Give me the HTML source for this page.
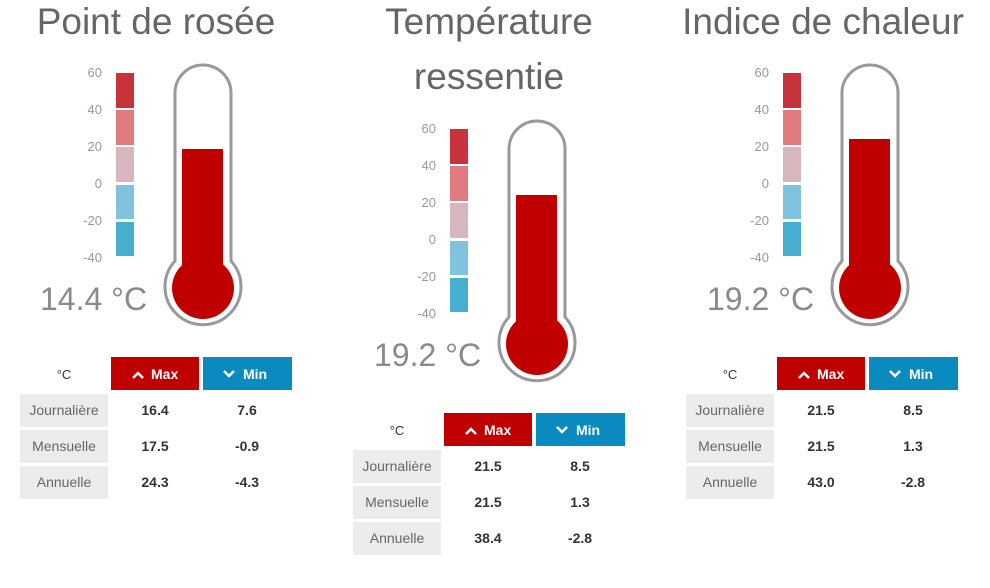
<!DOCTYPE html>
<html><head><meta charset="utf-8"><style>
html,body{margin:0;padding:0;background:#fff;}
svg{display:block;font-family:"Liberation Sans",sans-serif;}
</style></head><body>
<svg width="990" height="588" viewBox="0 0 990 588" xmlns="http://www.w3.org/2000/svg">
<defs>
<g id="scale">
  <rect x="116" y="73" width="18" height="35" fill="#c8323a"/>
  <rect x="116" y="110" width="18" height="35" fill="#e07a7e"/>
  <rect x="116" y="147" width="18" height="35" fill="#d8b6bd"/>
  <rect x="116" y="185" width="18" height="34" fill="#7fc3de"/>
  <rect x="116" y="222" width="18" height="34" fill="#46aecf"/>
  <g font-size="13" fill="#999" text-anchor="end">
    <text x="102" y="77">60</text>
    <text x="102" y="114">40</text>
    <text x="102" y="151">20</text>
    <text x="102" y="188">0</text>
    <text x="102" y="225">-20</text>
    <text x="102" y="262">-40</text>
  </g>
  <path d="M175,261 L175,93 A28,28 0 0 1 231,93 L231,261 A38,38 0 1 1 175,261 Z" fill="#fff" stroke="#999" stroke-width="3"/>
  <circle cx="203" cy="288" r="31" fill="#c00000"/>
</g>
<g id="hdr">
  <text x="64" y="379" font-size="13" fill="#333" text-anchor="middle">°C</text>
  <rect x="111" y="357" width="88" height="33" fill="#c00000"/>
  <rect x="203" y="357" width="89" height="33" fill="#0a8bbf"/>
  <polyline points="133,378 138,373 143,378" fill="none" stroke="#fff" stroke-width="2.5"/>
  <text x="151" y="379" font-size="14" font-weight="bold" fill="#fff">Max</text>
  <polyline points="224,371 229,376 234,371" fill="none" stroke="#fff" stroke-width="2.5"/>
  <text x="243" y="379" font-size="14" font-weight="bold" fill="#fff">Min</text>
  <rect x="20" y="394" width="88" height="33" fill="#ececec"/>
  <rect x="20" y="430" width="88" height="33" fill="#ececec"/>
  <rect x="20" y="466" width="88" height="33" fill="#ececec"/>
  <g font-size="14" fill="#666" text-anchor="middle">
    <text x="64" y="415">Journalière</text>
    <text x="64" y="451">Mensuelle</text>
    <text x="64" y="487">Annuelle</text>
  </g>
</g>
</defs>

<!-- Panel 1 -->
<text x="156" y="34" font-size="37" fill="#666" text-anchor="middle">Point de rosée</text>
<use href="#scale"/>
<rect x="182" y="149" width="41" height="140" fill="#c00000"/>
<text x="40" y="310" font-size="32" fill="#8a8a8a">14.4 °C</text>
<use href="#hdr"/>
<g font-size="14" font-weight="bold" fill="#333" text-anchor="middle">
<text x="155" y="415">16.4</text><text x="247" y="415">7.6</text>
<text x="155" y="451">17.5</text><text x="247" y="451">-0.9</text>
<text x="155" y="487">24.3</text><text x="247" y="487">-4.3</text>
</g>

<!-- Panel 2 -->
<text x="489" y="34" font-size="37" fill="#666" text-anchor="middle">Température</text>
<text x="489" y="89" font-size="37" fill="#666" text-anchor="middle">ressentie</text>
<g transform="translate(334,56)">
<use href="#scale"/>
<rect x="182" y="139" width="41" height="150" fill="#c00000"/>
<text x="40" y="310" font-size="32" fill="#8a8a8a">19.2 °C</text>
</g>
<g transform="translate(333,56)">
<use href="#hdr"/>
<g font-size="14" font-weight="bold" fill="#333" text-anchor="middle">
<text x="155" y="415">21.5</text><text x="247" y="415">8.5</text>
<text x="155" y="451">21.5</text><text x="247" y="451">1.3</text>
<text x="155" y="487">38.4</text><text x="247" y="487">-2.8</text>
</g>
</g>

<!-- Panel 3 -->
<text x="823" y="34" font-size="37" fill="#666" text-anchor="middle">Indice de chaleur</text>
<g transform="translate(667,0)">
<use href="#scale"/>
<rect x="182" y="139" width="41" height="150" fill="#c00000"/>
<text x="40" y="310" font-size="32" fill="#8a8a8a">19.2 °C</text>
</g>
<g transform="translate(666,0)">
<use href="#hdr"/>
<g font-size="14" font-weight="bold" fill="#333" text-anchor="middle">
<text x="155" y="415">21.5</text><text x="247" y="415">8.5</text>
<text x="155" y="451">21.5</text><text x="247" y="451">1.3</text>
<text x="155" y="487">43.0</text><text x="247" y="487">-2.8</text>
</g>
</g>
</svg>
</body></html>
